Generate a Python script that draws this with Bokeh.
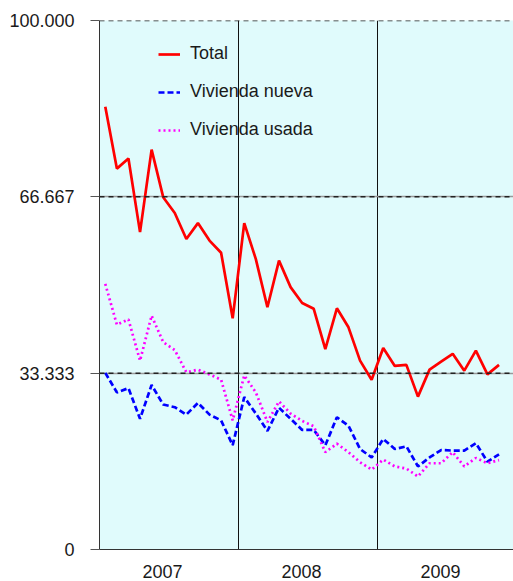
import numpy as np
from bokeh.plotting import figure
from bokeh.models import FixedTicker, CustomJSTickFormatter, Span, Legend, LegendItem, Range1d
from bokeh.embed import file_html
from bokeh.resources import INLINE

years = ["2007", "2008", "2009"]
total = [83700, 72000, 73900, 60000, 75600, 66600, 63600, 58700, 61700, 58400, 56100, 43700,
         61700, 54900, 45800, 54600, 49600, 46600, 45500, 37900, 45600, 42000, 35700, 32100,
         38100, 34700, 34900, 28900, 34000, 35500, 37000, 33800, 37600, 33100, 34900]
nueva = [33400, 29700, 30500, 24700, 31100, 27400, 26900, 25500, 27700, 25500, 24400, 19700,
         28800, 25700, 22400, 26800, 24700, 22600, 22600, 19700, 25000, 23400, 19000, 17400,
         20900, 19000, 19500, 15700, 17400, 18800, 18700, 18700, 20100, 16600, 18000]
usada = [50200, 42500, 43500, 35700, 44200, 39200, 37700, 33500, 34000, 33100, 32100, 24400,
         32900, 29700, 24100, 28000, 25700, 24300, 23300, 18400, 20000, 18400, 16500, 15100,
         17000, 15700, 15300, 13800, 16300, 16300, 18400, 15700, 17300, 16300, 16900]
y_ticks = [0, 100000 / 3, 200000 / 3, 100000]

x = np.arange(len(total)) + 0.5
FONT = "Liberation Sans"
FS = "18px"

p = figure(width=513, height=581, output_backend="svg", toolbar_location=None,
           x_range=Range1d(0, 35.75), y_range=Range1d(0, 100000),
           min_border_left=99, min_border_right=0, min_border_top=20, min_border_bottom=32)
p.background_fill_color = "#e0fbfc"
p.border_fill_color = "white"
p.outline_line_color = None

r_total = p.line(x, total, line_color="#ff0000", line_width=2.7)
r_nueva = p.line(x, nueva, line_color="#0000ff", line_width=2.7, line_dash="6 3")
r_usada = p.line(x, usada, line_color="#ff00ff", line_width=2.7, line_dash="2 3")

# axes
p.yaxis.ticker = FixedTicker(ticks=y_ticks)
p.yaxis.formatter = CustomJSTickFormatter(code="""
const n = Math.round(tick);
return n.toString().replace(/\\B(?=(\\d{3})+(?!\\d))/g, '.');
""")
p.yaxis.major_tick_out = 9
p.yaxis.major_tick_in = 0
p.yaxis.minor_tick_out = 0
p.yaxis.minor_tick_in = 0
p.yaxis.major_label_standoff = 16
p.yaxis.axis_line_color = "#333333"
p.yaxis.major_tick_line_color = "#555555"

p.xaxis.ticker = FixedTicker(ticks=[5.45, 17.45, 29.45])
p.xaxis.major_label_overrides = {5.45: years[0], 17.45: years[1], 29.45: years[2]}
p.xaxis.major_tick_out = 0
p.xaxis.major_tick_in = 0
p.xaxis.minor_tick_out = 0
p.xaxis.minor_tick_in = 0
p.xaxis.major_label_standoff = 15
p.xaxis.axis_line_color = "#333333"

for ax in (p.xaxis[0], p.yaxis[0]):
    ax.major_label_text_font = FONT
    ax.major_label_text_font_size = FS
    ax.major_label_text_color = "#1a1a1a"

# grids
p.xgrid.ticker = FixedTicker(ticks=[12, 24])
p.xgrid.grid_line_color = "#111111"
p.xgrid.grid_line_width = 1
p.ygrid.ticker = FixedTicker(ticks=y_ticks[1:])
p.ygrid.grid_line_color = "#999999"
p.ygrid.grid_line_width = 1.5
for v in y_ticks[1:]:
    p.add_layout(Span(location=v, dimension="width", line_color="#222222",
                      line_width=1.5, line_dash="5 4"))

legend = Legend(items=[LegendItem(label="Total", renderers=[r_total]),
                       LegendItem(label="Vivienda nueva", renderers=[r_nueva]),
                       LegendItem(label="Vivienda usada", renderers=[r_usada])],
                location=(59, 409), orientation="vertical")
legend.background_fill_alpha = 0
legend.border_line_color = None
legend.label_text_font = FONT
legend.label_text_font_size = FS
legend.label_text_color = "#1a1a1a"
legend.glyph_width = 22
legend.glyph_height = 20
legend.label_height = 20
legend.label_standoff = 10
legend.spacing = 17
legend.padding = 0
legend.margin = 0
p.add_layout(legend)

open("out.html", "w").write(file_html(p, INLINE))
